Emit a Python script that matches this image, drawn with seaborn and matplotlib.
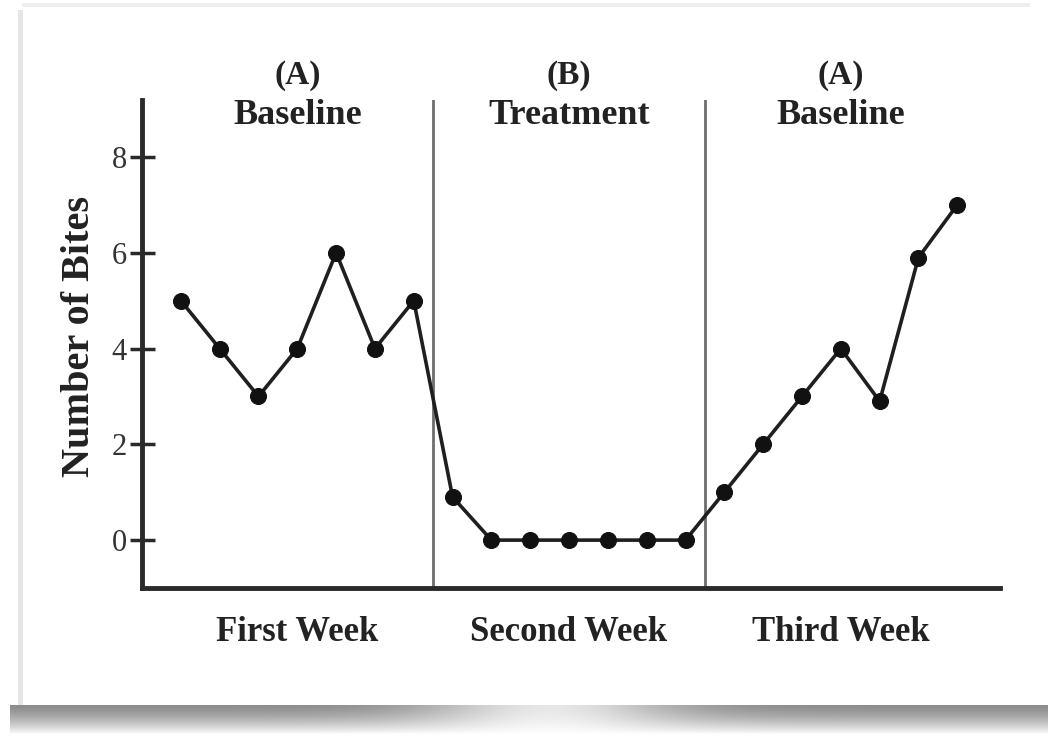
import numpy as np
import pandas as pd
import matplotlib
matplotlib.use("Agg")
import matplotlib.pyplot as plt
import seaborn as sns
from matplotlib.patches import Rectangle

# ---- data ----
week1 = [5, 4, 3, 4, 6, 4, 5]
week2 = [0.9, 0, 0, 0, 0, 0, 0]
week3 = [1, 2, 3, 4, 2.9, 5.9, 7]
phase_codes = ["(A)", "(B)", "(A)"]
phase_names = ["Baseline", "Treatment", "Baseline"]
week_labels = ["First Week", "Second Week", "Third Week"]
y_ticks = [0, 2, 4, 6, 8]

bites = week1 + week2 + week3
days = list(range(1, len(bites) + 1))
df = pd.DataFrame({"Day": days, "Bites": bites})

sns.set_theme(style="white")
plt.rcParams["font.family"] = ["Liberation Serif", "DejaVu Serif"]

fig = plt.figure(figsize=(10.48, 7.41), dpi=100)
fig.patch.set_facecolor("white")

W, H = 1048, 741
def fx(px):
    return px / W
def fy(py):
    return 1 - py / H

# card border decorations
fig.add_artist(Rectangle((fx(18), fy(705)), fx(5), fy(10) - fy(705),
                         transform=fig.transFigure, color="#e6e6e6", lw=0))
fig.add_artist(Rectangle((fx(22), fy(7)), fx(1030) - fx(22), fy(3) - fy(7),
                         transform=fig.transFigure, color="#eeeeee", lw=0))
# bottom shadow band
bax = fig.add_axes([fx(10), fy(735), fx(1048) - fx(10), fy(705) - fy(735)])
xs = np.linspace(0, 1, 400)
ys = np.linspace(0, 1, 30)[:, None]
horiz = 0.55 + 0.35 * np.exp(-((xs - 0.52) / 0.12) ** 2)
img = horiz[None, :] + (1 - horiz[None, :]) * ys ** 1.5
bax.imshow(img, cmap="gray", vmin=0, vmax=1, aspect="auto", interpolation="bilinear")
bax.axis("off")

ax = fig.add_axes([fx(142), fy(588), fx(1000) - fx(142), fy(100) - fy(588)])
ax.set_facecolor("white")

# phase lines
for xv in [7.5, 14.5]:
    ax.axvline(xv, color="#6e6e6e", lw=2.0, zorder=1)

sns.lineplot(data=df, x="Day", y="Bites", ax=ax, color="#1f1f1f", lw=2.6,
             marker="o", markersize=11.5, markeredgecolor="#111111",
             markerfacecolor="#111111", zorder=3)

ax.set_xlim(0, 22.1)
ax.set_ylim(-1.0, 9.19)

for s in ["top", "right"]:
    ax.spines[s].set_visible(False)
for s in ["left", "bottom"]:
    ax.spines[s].set_color("#2a2a2a")
    ax.spines[s].set_linewidth(3.5)

ax.set_yticks(y_ticks)
ax.set_yticklabels([str(t) for t in y_ticks], fontsize=22, color="#333333")
ax.tick_params(axis="y", direction="inout", length=18, width=2.5,
               color="#2a2a2a", left=True, pad=2)

centers = [4, 11, 18]
ax.set_xticks(centers)
ax.set_xticklabels(week_labels, fontsize=25, fontweight="bold", color="#222222")
ax.tick_params(axis="x", length=0, pad=20)

ax.set_xlabel("")
ax.set_ylabel("Number of Bites", fontsize=29, fontweight="bold",
              color="#222222", labelpad=4)
ax.yaxis.set_label_coords(-0.051, 0.515)

for c, code, name in zip(centers, phase_codes, phase_names):
    ax.text(c, 9.71, code, ha="center", va="center", fontsize=24,
            fontweight="bold", color="#222222", clip_on=False)
    ax.text(c, 8.86, name, ha="center", va="center", fontsize=26,
            fontweight="bold", color="#222222", clip_on=False)

fig.savefig("out.png", dpi=100, facecolor="white")
